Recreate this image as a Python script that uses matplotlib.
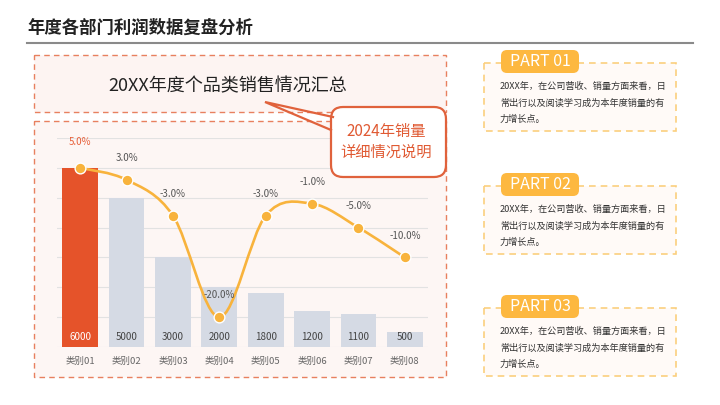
import matplotlib
matplotlib.use('Agg')
import numpy as np
import matplotlib.pyplot as plt
from matplotlib.patches import FancyBboxPatch, Rectangle, PathPatch
from matplotlib.path import Path

plt.rcParams['font.family'] = ['Noto Sans CJK SC', 'DejaVu Sans']

# data
categories = ['类别01', '类别02', '类别03', '类别04', '类别05', '类别06', '类别07', '类别08']
sales = [6000, 5000, 3000, 2000, 1800, 1200, 1100, 500]
growth = [5.0, 3.0, -3.0, -20.0, -3.0, -1.0, -5.0, -10.0]

title = '年度各部门利润数据复盘分析'
subtitle = '20XX年度个品类销售情况汇总'
callout = '2024年销量\n详细情况说明'
parts = ['PART 01', 'PART 02', 'PART 03']
part_text = '20XX年，在公司营收、销量方面来看，日\n常出行以及阅读学习成为本年度销量的有\n力增长点。'

ORANGE = '#e5532a'
LINE = '#f8b33c'
GREY_BAR = '#d5dae4'
W, H = 720, 405

fig = plt.figure(figsize=(7.2, 4.05), dpi=100)

# background layer in pixel coords
bg = fig.add_axes([0, 0, 1, 1], zorder=0)
bg.set_xlim(0, W)
bg.set_ylim(H, 0)
bg.axis('off')

bg.text(27, 28, title, fontsize=12.5, fontweight='bold', color='#222222', va='center', ha='left')
bg.plot([27, 693], [43, 43], color='#8a8a8a', lw=1.5)

# top box
bg.add_patch(Rectangle((34, 55), 412, 57, facecolor='#fdf4f2', edgecolor='#e8805f',
                       lw=1, ls=(0, (4, 3))))
bg.text(228, 86, subtitle, fontsize=13, color='#222222', ha='center', va='center')

# chart box
bg.add_patch(Rectangle((34, 121), 412, 256, facecolor='#fdf6f4', edgecolor='#e8805f',
                       lw=1, ls=(0, (4, 3))))

# right panels
panel_tops = [63, 186, 308]
for name, top in zip(parts, panel_tops):
    bg.add_patch(Rectangle((484, top), 192, 68, facecolor='#fffaf7', edgecolor='#fbcf7e',
                           lw=1.2, ls=(0, (4, 3))))
    bg.add_patch(FancyBboxPatch((501, top - 13), 78, 23, boxstyle='round,pad=0,rounding_size=6',
                                facecolor='#fdb840', edgecolor='none'))
    bg.text(540, top - 1.5, name, fontsize=11.5, color='white', ha='center', va='center')
    bg.text(500, top + 40, part_text, fontsize=6.6, color='#333333', ha='left', va='center',
            linespacing=2.0)

# chart
ax = fig.add_axes([57 / W, (H - 347) / H, 371 / W, (347 - 138) / H], zorder=1)
ax.patch.set_alpha(0)
x = np.arange(len(categories))
colors = [ORANGE] + [GREY_BAR] * (len(categories) - 1)
ax.bar(x, sales, width=0.77, color=colors, zorder=2)
for i, v in enumerate(sales):
    ax.text(i, 330, str(v), ha='center', va='center', fontsize=7,
            color='white' if i == 0 else '#444444', zorder=3)
ax.set_xlim(-0.5, len(categories) - 0.5)
ax.set_ylim(0, 7000)
ax.set_yticks(np.arange(0, 7001, 1000))
ax.yaxis.grid(True, color='#e2e2e2', lw=0.8, zorder=0)
ax.set_yticklabels([])
ax.tick_params(axis='y', length=0)
ax.tick_params(axis='x', length=0, pad=7, labelsize=6.8, labelcolor='#666666')
ax.set_xticks(x)
ax.set_xticklabels(categories)
for s in ax.spines.values():
    s.set_visible(False)

# growth line on secondary axis
ax2 = ax.twinx()
ax2.set_ylim(-25, 10)
ax2.axis('off')
pts = np.column_stack([x, growth]).astype(float)
verts = [tuple(pts[0])]
codes = [Path.MOVETO]
n = len(pts)
for i in range(n - 1):
    p0 = pts[max(i - 1, 0)]
    p1 = pts[i]
    p2 = pts[i + 1]
    p3 = pts[min(i + 2, n - 1)]
    c1 = p1 + (p2 - p0) / 6.0
    c2 = p2 - (p3 - p1) / 6.0
    verts += [tuple(c1), tuple(c2), tuple(p2)]
    codes += [Path.CURVE4] * 3
ax2.add_patch(PathPatch(Path(verts, codes), facecolor='none', edgecolor=LINE, lw=1.9, zorder=3))
ax2.scatter(x, growth, s=60, color=LINE, edgecolor='white', linewidth=1, zorder=4, clip_on=False)
for i, g in enumerate(growth):
    ax2.annotate(f'{g:.1f}%', (i, g), xytext=(0, 12 if i else 15), textcoords='offset points',
                 ha='center', va='bottom', fontsize=7,
                 color='#e8603a' if i == 0 else '#555555', zorder=5, annotation_clip=False)

# callout bubble on top
ov = fig.add_axes([0, 0, 1, 1], zorder=5)
ov.patch.set_alpha(0)
ov.set_xlim(0, W)
ov.set_ylim(H, 0)
ov.axis('off')
ov.plot([333, 265, 331], [117, 102, 130], color='#e0623c', lw=1.6, solid_joinstyle='miter')
ov.add_patch(FancyBboxPatch((331, 107), 115, 70, boxstyle='round,pad=0,rounding_size=12',
                            facecolor='white', edgecolor='#e0623c', lw=1.6))
ov.text(386, 142, callout, fontsize=11, color='#e05a33', ha='center', va='center',
        linespacing=1.3)

fig.savefig('out.png', dpi=100)
